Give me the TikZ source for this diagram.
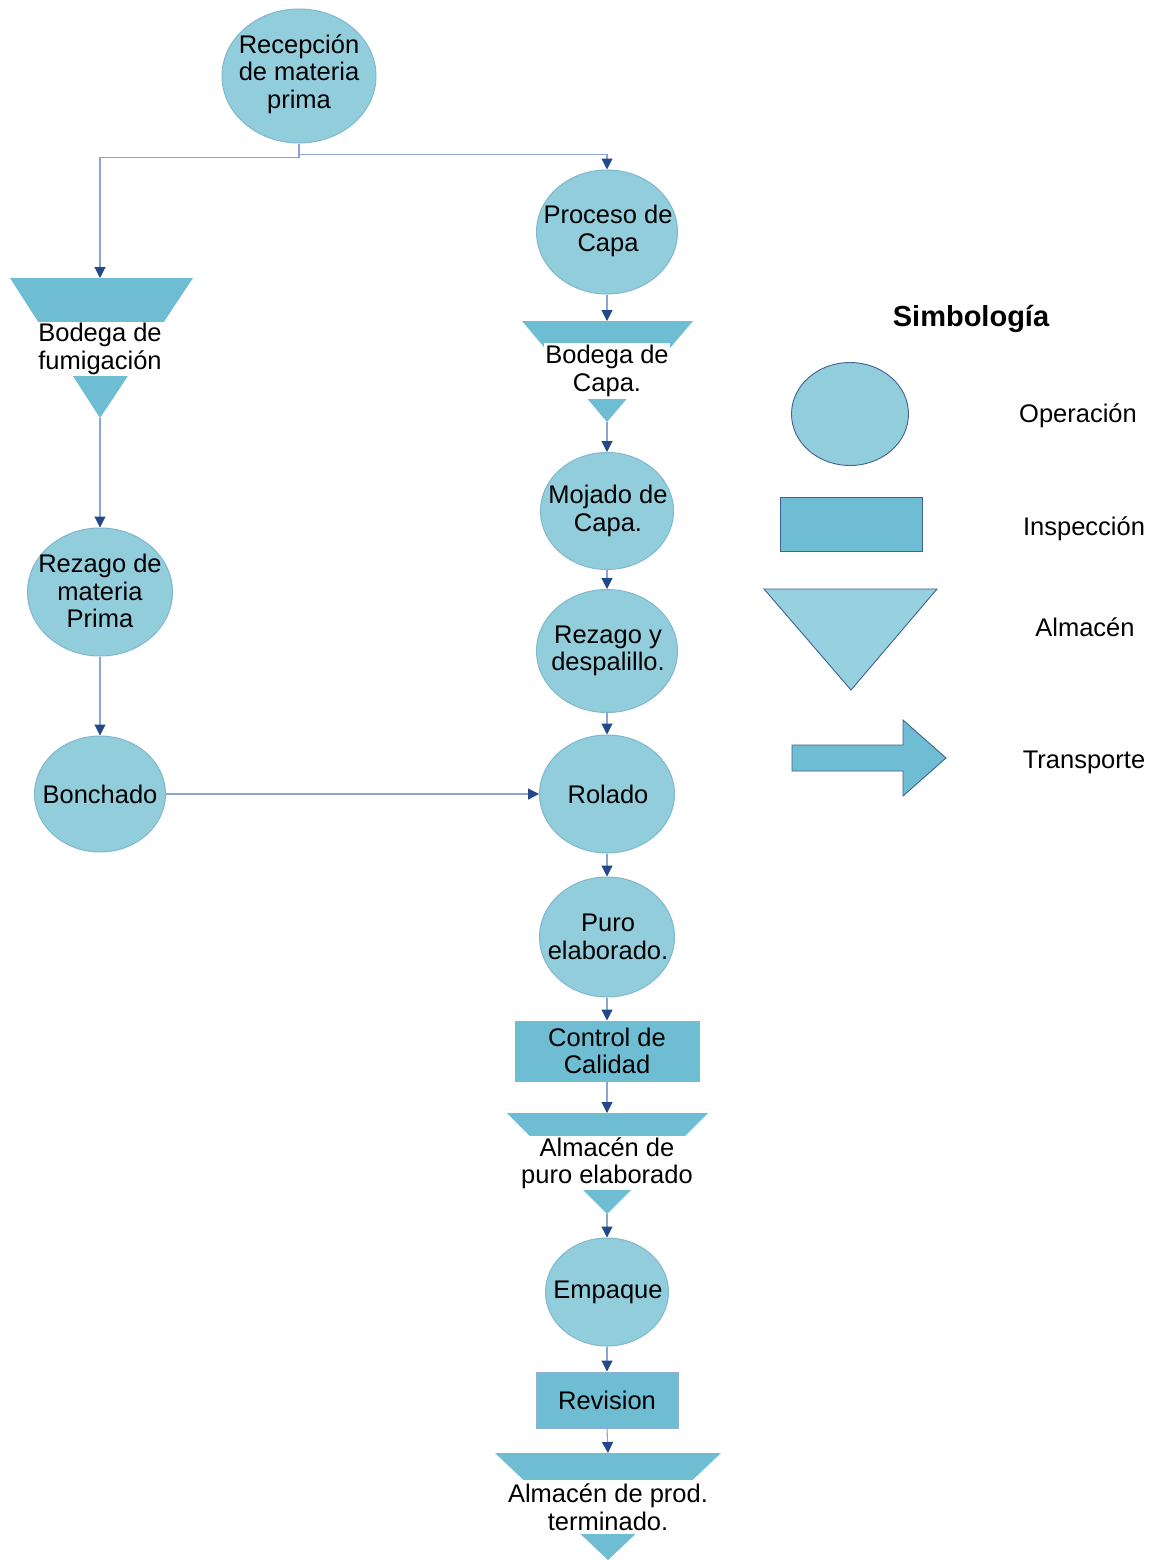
\documentclass[tikz,border=0pt]{standalone}
\usepackage{fontspec}
\setmainfont{Liberation Sans}
\usetikzlibrary{shapes.geometric,arrows.meta}
\definecolor{opfill}{HTML}{92CDDC}
\definecolor{opedge}{HTML}{80B8D0}
\definecolor{insfill}{HTML}{6FBDD2}
\definecolor{insedge}{HTML}{8FAFD6}
\definecolor{linecol}{HTML}{8AA5CF}
\definecolor{tipcol}{HTML}{24498A}
\definecolor{legedge}{HTML}{3E6296}
\definecolor{trifill}{HTML}{97D1E0}
\newcommand{\mainsz}{\fontsize{25.5}{27.5}\selectfont}
\tikzset{
  op/.style={ellipse, fill=opfill, draw=opedge, line width=1pt, inner sep=0pt},
  txt/.style={align=center, font=\mainsz, inner sep=0pt},
  insp/.style={rectangle, fill=insfill, draw=insedge, line width=1pt, inner sep=0pt, align=center, font=\mainsz},
  store/.style={fill=insfill, draw=none},
  slabel/.style={rectangle, fill=white, inner sep=0pt, align=center, font=\mainsz},
  conn/.style={draw=linecol, line width=1.1pt, -{Triangle[length=11pt,width=11pt,color=tipcol]}},
  legtxt/.style={font=\mainsz, anchor=center},
}
\begin{document}
\begin{tikzpicture}[x=1pt,y=-1pt]
\useasboundingbox (0,0) rectangle (1152,1560);
\fill[white] (0,0) rectangle (1152,1560);

% ---- left column
\node[op, minimum width=154pt, minimum height=134pt] (recep) at (299,76) {};
\node[txt] (recepT) at (299,74) {Recepción\\de materia\\prima};

\fill[store] (10,278) -- (193,278) -- (100,418) -- cycle;
\coordinate (fumT) at (100,278);
\coordinate (fumB) at (100,418);
\node[slabel, minimum width=128pt, minimum height=54pt] (fumL) at (100,349) {Bodega de\\fumigación};

\node[op, minimum width=145pt, minimum height=128pt] (rezmp) at (100,592) {};
\node[txt] (rezmpT) at (100,591) {Rezago de\\materia\\Prima};
\node[op, minimum width=131pt, minimum height=116pt] (bon) at (100,794) {};
\node[txt] (bonT) at (100,794) {Bonchado};

% ---- right column
\node[op, minimum width=141pt, minimum height=124pt] (proc) at (607,232) {};
\node[txt] (procT) at (608,231) {Proceso de\\Capa};

\fill[store] (522,321) -- (693,321) -- (607,422) -- cycle;
\coordinate (capT) at (607,321);
\coordinate (capB) at (607,422);
\node[slabel, minimum width=126pt, minimum height=56pt] (capL) at (607,371) {Bodega de\\Capa.};

\node[op, minimum width=133pt, minimum height=117pt] (moj) at (607,511) {};
\node[txt] (mojT) at (608,511) {Mojado de\\Capa.};
\node[op, minimum width=141pt, minimum height=123pt] (rezd) at (607,651) {};
\node[txt] (rezdT) at (608,651) {Rezago y\\despalillo.};
\node[op, minimum width=135pt, minimum height=118pt] (rol) at (607,794) {};
\node[txt] (rolT) at (608,794) {Rolado};
\node[op, minimum width=135pt, minimum height=120pt] (puro) at (607,937) {};
\node[txt] (puroT) at (608,937) {Puro\\elaborado.};
\node[insp, minimum width=184pt, minimum height=60pt] (ctrl) at (607,1051) {Control de\\Calidad};

\fill[store] (507,1113) -- (708,1113) -- (607,1214) -- cycle;
\coordinate (apT) at (607,1113);
\coordinate (apB) at (607,1214);
\node[slabel, minimum width=173pt, minimum height=54pt] (apL) at (607,1163) {Almacén de\\puro elaborado};

\node[op, minimum width=123pt, minimum height=108pt] (emp) at (607,1292) {};
\node[txt] (empT) at (608,1292) {Empaque};
\node[insp, minimum width=142pt, minimum height=56pt] (rev) at (607,1400) {Revision};

\fill[store] (495,1453) -- (721,1453) -- (608,1560) -- cycle;
\coordinate (atT) at (608,1453);
\node[slabel, minimum width=206pt, minimum height=54pt] (atL) at (608,1507) {Almacén de prod.\\terminado.};

% ---- connectors
\draw[conn] (recep.south) -- ++(0,14) -| (fumT);
\draw[conn] (recep.south) -- ++(0,11) -| (proc.north);
\draw[conn] (fumB) -- (rezmp.north);
\draw[conn] (rezmp.south) -- (bon.north);
\draw[conn] (bon.east) -- (rol.west);
\draw[conn] (proc.south) -- (capT);
\draw[conn] (capB) -- (moj.north);
\draw[conn] (moj.south) -- (rezd.north);
\draw[conn] (rezd.south) -- (rol.north);
\draw[conn] (rol.south) -- (puro.north);
\draw[conn] (puro.south) -- (ctrl.north);
\draw[conn] (ctrl.south) -- (apT);
\draw[conn] (apB) -- (emp.north);
\draw[conn] (emp.south) -- (rev.north);
\draw[conn] (rev.south) -- (atT);

% ---- legend
\node[font=\fontsize{29}{32}\selectfont\bfseries] (simb) at (971,319) {Simbología};
\node[ellipse, fill=opfill, draw=legedge, line width=0.9pt, minimum width=117pt, minimum height=103pt, inner sep=0pt] (legop) at (850,414) {};
\node[rectangle, fill=insfill, draw=legedge, line width=0.9pt, minimum width=142pt, minimum height=54pt, inner sep=0pt] (legins) at (851,524) {};
\draw[fill=trifill, draw=legedge, line width=0.9pt] (764,589) -- (937,589) -- (851,690) -- cycle;
\coordinate (legalm) at (851,630);
\draw[fill=insfill, draw=legedge, line width=0.9pt] (792,745) -- (903,745) -- (903,720) -- (946,758) -- (903,796) -- (903,771) -- (792,771) -- cycle;
\coordinate (legtr) at (870,758);
\node[legtxt] (tOp) at (1078,416) {Operación};
\node[legtxt] (tIns) at (1084,529) {Inspección};
\node[legtxt] (tAlm) at (1085,627) {Almacén};
\node[legtxt] (tTr) at (1084,762) {Transporte};
\end{tikzpicture}
\end{document}
